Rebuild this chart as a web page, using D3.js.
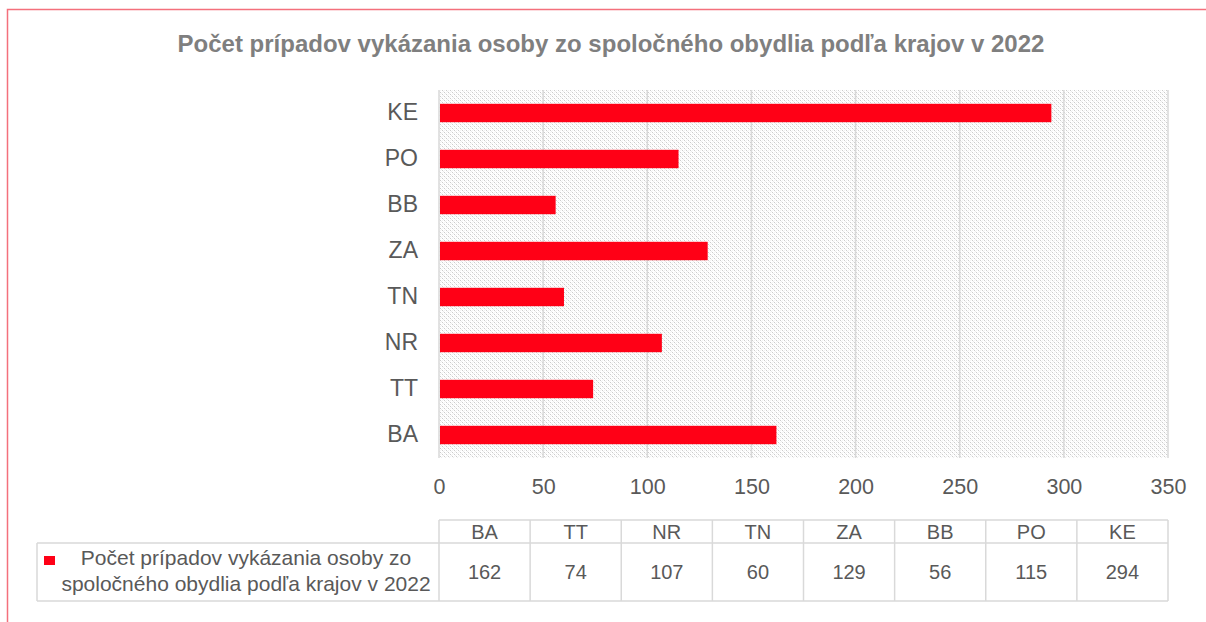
<!DOCTYPE html>
<html>
<head>
<meta charset="utf-8">
<script src="https://cdn.jsdelivr.net/npm/d3@7"></script>
<style>
  body { margin: 0; background: #fff; }
  svg { display: block; font-family: Arial, "Liberation Sans", sans-serif; }
</style>
</head>
<body>
<div id="chart"></div>
<script>
// kraje (zdola nahor v grafe) a hodnoty
var regions = ["BA", "TT", "NR", "TN", "ZA", "BB", "PO", "KE"];
var values = [162, 74, 107, 60, 129, 56, 115, 294];
var xTicks = [0, 50, 100, 150, 200, 250, 300, 350];
var chartTitle = "Počet prípadov vykázania osoby zo spoločného obydlia podľa krajov v 2022";
var seriesName = ["Počet prípadov vykázania osoby zo", "spoločného obydlia podľa krajov v 2022"];

var width = 1206, height = 622;
var plot = { left: 439, right: 1168, top: 90, bottom: 458 };
var red = "#ff0016", textGray = "#595959", gridGray = "#d9d9d9";

var svg = d3.select("#chart").append("svg")
  .attr("width", width)
  .attr("height", height);

// vzor pozadia (šrafovanie)
var defs = svg.append("defs");
var pat = defs.append("pattern")
  .attr("id", "hatch")
  .attr("patternUnits", "userSpaceOnUse")
  .attr("width", 4).attr("height", 4);
pat.append("rect").attr("width", 4).attr("height", 4).attr("fill", "#fff");
[[0, 0, "#cccccc"], [2, 2, "#cccccc"], [1, 1, "#ebebeb"], [3, 3, "#ebebeb"], [2, 0, "#f3f3f3"], [0, 2, "#f3f3f3"]].forEach(function (p) {
  pat.append("rect").attr("x", p[0]).attr("y", p[1]).attr("width", 1).attr("height", 1).attr("fill", p[2]);
});

// rámik
svg.append("path")
  .attr("d", "M7.5," + height + "V9.5H" + width)
  .attr("fill", "none")
  .attr("stroke", "#f4707c")
  .attr("stroke-width", 1.5);

// nadpis
svg.append("text")
  .attr("x", 611).attr("y", 52)
  .attr("text-anchor", "middle")
  .attr("font-size", 24).attr("font-weight", "bold")
  .attr("fill", "#7f7f7f")
  .text(chartTitle);

var x = d3.scaleLinear().domain([0, 350]).range([plot.left, plot.right]);
var y = d3.scaleBand().domain(regions.slice().reverse())
  .range([plot.top, plot.bottom]).paddingInner(0.6).paddingOuter(0.3);

svg.append("rect")
  .attr("x", plot.left).attr("y", plot.top)
  .attr("width", plot.right - plot.left).attr("height", plot.bottom - plot.top)
  .attr("fill", "url(#hatch)");

// mriežka
svg.append("g").selectAll("line")
  .data(xTicks)
  .enter().append("line")
  .attr("x1", function (d) { return x(d); })
  .attr("x2", function (d) { return x(d); })
  .attr("y1", plot.top).attr("y2", plot.bottom)
  .attr("stroke", gridGray).attr("stroke-width", 1.5);

// stĺpce
svg.append("g").selectAll("rect")
  .data(regions)
  .enter().append("rect")
  .attr("x", x(0) + 1)
  .attr("y", function (d) { return y(d); })
  .attr("width", function (d, i) { return x(values[i]) - x(0) - 1; })
  .attr("height", y.bandwidth())
  .attr("fill", red);

// os y
var yAxis = svg.append("g")
  .attr("transform", "translate(" + (plot.left - 21) + ",0)")
  .call(d3.axisLeft(y).tickSize(0).tickPadding(0));
yAxis.select(".domain").remove();
yAxis.selectAll("text")
  .attr("font-size", 23).attr("fill", textGray)
  .attr("font-family", "Arial, 'Liberation Sans', sans-serif");

// os x
var xAxis = svg.append("g")
  .attr("transform", "translate(0," + plot.bottom + ")")
  .call(d3.axisBottom(x).tickValues(xTicks).tickSize(0).tickPadding(21));
xAxis.select(".domain").remove();
xAxis.selectAll("text")
  .attr("font-size", 21.5).attr("fill", textGray)
  .attr("font-family", "Arial, 'Liberation Sans', sans-serif");

// tabuľka údajov
var colW = (plot.right - plot.left) / regions.length;
var tTop = 520, tMid = 543, tBot = 601, legLeft = 37;
var table = svg.append("g");
var cols = d3.range(regions.length + 1).map(function (i) { return plot.left + i * colW; });

table.selectAll("line.v")
  .data(cols)
  .enter().append("line")
  .attr("x1", function (d) { return d; }).attr("x2", function (d) { return d; })
  .attr("y1", tTop).attr("y2", tBot)
  .attr("stroke", gridGray).attr("stroke-width", 1.5);
[[plot.left, plot.right, tTop], [legLeft, plot.right, tMid], [legLeft, plot.right, tBot]].forEach(function (l) {
  table.append("line")
    .attr("x1", l[0]).attr("x2", l[1]).attr("y1", l[2]).attr("y2", l[2])
    .attr("stroke", gridGray).attr("stroke-width", 1.5);
});
table.append("line")
  .attr("x1", legLeft).attr("x2", legLeft).attr("y1", tMid).attr("y2", tBot)
  .attr("stroke", gridGray).attr("stroke-width", 1.5);

table.selectAll("text.head")
  .data(regions)
  .enter().append("text")
  .attr("x", function (d, i) { return plot.left + (i + 0.5) * colW; })
  .attr("y", 539)
  .attr("text-anchor", "middle")
  .attr("font-size", 20).attr("fill", textGray)
  .text(function (d) { return d; });

table.selectAll("text.val")
  .data(values)
  .enter().append("text")
  .attr("x", function (d, i) { return plot.left + (i + 0.5) * colW; })
  .attr("y", 579)
  .attr("text-anchor", "middle")
  .attr("font-size", 20).attr("fill", textGray)
  .text(function (d) { return d; });

table.append("rect")
  .attr("x", 44).attr("y", 556).attr("width", 11).attr("height", 9)
  .attr("fill", red);
table.selectAll("text.leg")
  .data(seriesName)
  .enter().append("text")
  .attr("x", 246)
  .attr("y", function (d, i) { return 565 + i * 26; })
  .attr("text-anchor", "middle")
  .attr("font-size", 21).attr("fill", textGray)
  .text(function (d) { return d; });
</script>
</body>
</html>
